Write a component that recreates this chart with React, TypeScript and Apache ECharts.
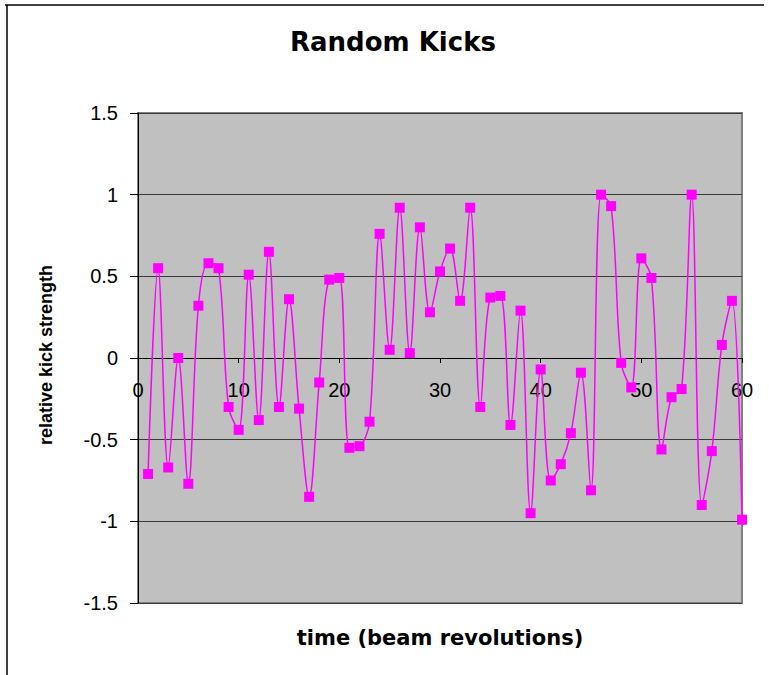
import React, { useEffect, useRef } from "react";
import * as echarts from "echarts";

const revolutions: number[] = Array.from({ length: 60 }, (_, i) => i + 1);
const kickStrength: number[] = [
  -0.71, 0.55, -0.67, 0.0, -0.77, 0.32, 0.58, 0.55, -0.3, -0.44,
  0.51, -0.38, 0.65, -0.3, 0.36, -0.31, -0.85, -0.15, 0.48, 0.49,
  -0.55, -0.54, -0.39, 0.76, 0.05, 0.92, 0.03, 0.8, 0.28, 0.53,
  0.67, 0.35, 0.92, -0.3, 0.37, 0.38, -0.41, 0.29, -0.95, -0.07,
  -0.75, -0.65, -0.46, -0.09, -0.81, 1.0, 0.93, -0.03, -0.18, 0.61,
  0.49, -0.56, -0.24, -0.19, 1.0, -0.9, -0.57, 0.08, 0.35, -0.99,
];
const chartTitle = "Random Kicks";
const xTitle = "time (beam revolutions)";
const yTitle = "relative kick strength";

const GRID_TOP = 113;
const GRID_BOTTOM = 72;
const CHART_H = 675;
const Y_MIN = -1.5;
const Y_MAX = 1.5;

export default function App() {
  const ref = useRef<HTMLDivElement>(null);
  useEffect(() => {
    if (!ref.current) return;
    const chart = echarts.init(ref.current, undefined, { renderer: "svg" });
    const data = revolutions.map((x, i) => [x, kickStrength[i]]);
    const plotH = CHART_H - GRID_TOP - GRID_BOTTOM;
    // distance from bottom edge of plot up to value 0
    const zeroOffset = (plotH * (0 - Y_MIN)) / (Y_MAX - Y_MIN);
    chart.setOption({
      animation: false,
      backgroundColor: "#ffffff",
      grid: {
        left: 138,
        right: 27,
        top: GRID_TOP,
        bottom: GRID_BOTTOM,
        show: true,
        backgroundColor: "#c0c0c0",
        borderColor: "#808080",
        borderWidth: 2,
      },
      xAxis: {
        type: "value",
        min: 0,
        max: 60,
        interval: 10,
        position: "bottom",
        offset: -zeroOffset,
        axisLine: { show: true, onZero: false, lineStyle: { color: "#000", width: 1 } },
        axisTick: { show: true, length: 5, lineStyle: { color: "#000" } },
        axisLabel: {
          margin: 22,
          color: "#000",
          fontFamily: "Liberation Sans",
          fontSize: 20,
        },
        splitLine: { show: false },
      },
      yAxis: {
        type: "value",
        min: Y_MIN,
        max: Y_MAX,
        interval: 0.5,
        axisLine: { show: true, onZero: false, lineStyle: { color: "#000", width: 1 } },
        axisTick: { show: true, length: 8, lineStyle: { color: "#000" } },
        axisLabel: {
          margin: 20,
          color: "#000",
          fontFamily: "Liberation Sans",
          fontSize: 20,
        },
        splitLine: { show: true, lineStyle: { color: "#3a3a3a", width: 1 } },
      },
      graphic: [
        {
          type: "line",
          shape: { x1: 5, y1: 5, x2: 764, y2: 5 },
          style: { stroke: "#000", lineWidth: 1.5 },
          silent: true,
        },
        {
          type: "line",
          shape: { x1: 7, y1: 5, x2: 7, y2: 675 },
          style: { stroke: "#000", lineWidth: 1.5 },
          silent: true,
        },
        {
          type: "text",
          x: 393,
          y: 42,
          style: {
            text: chartTitle,
            fill: "#000",
            font: "bold 26px 'DejaVu Sans'",
            textAlign: "center",
            textVerticalAlign: "middle",
          },
        },
        {
          type: "text",
          x: 440,
          y: 638,
          style: {
            text: xTitle,
            fill: "#000",
            font: "bold 21px 'DejaVu Sans'",
            textAlign: "center",
            textVerticalAlign: "middle",
          },
        },
        {
          type: "text",
          x: 46,
          y: 355,
          rotation: Math.PI / 2,
          style: {
            text: yTitle,
            fill: "#000",
            font: "bold 18px 'Liberation Sans'",
            textAlign: "center",
            textVerticalAlign: "middle",
          },
        },
      ],
      series: [
        {
          type: "line",
          data,
          smooth: 0.35,
          symbol: "rect",
          symbolSize: 10,
          lineStyle: { color: "#ff00ff", width: 1.5 },
          itemStyle: { color: "#ff00ff" },
        },
      ],
    });
    return () => chart.dispose();
  }, []);
  return (
    <div
      ref={ref}
      style={{ position: "absolute", left: 0, top: 0, width: 769, height: 675 }}
    />
  );
}
